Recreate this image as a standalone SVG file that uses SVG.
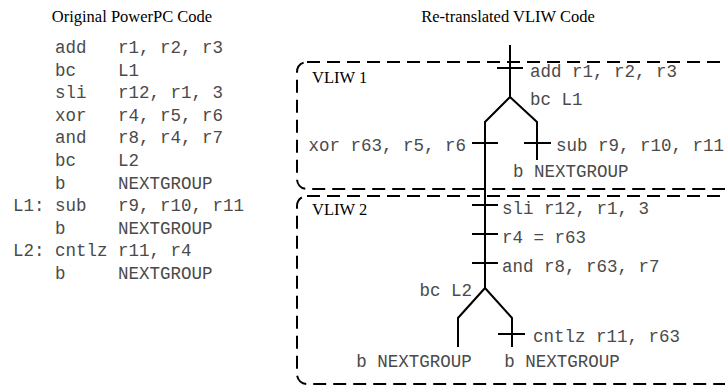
<svg xmlns="http://www.w3.org/2000/svg" width="725" height="387" viewBox="0 0 725 387">
  <style>
    .title { font-family: "Liberation Serif", "Times New Roman", serif; font-size: 16.5px; fill: #000; }
    .label { font-family: "Liberation Serif", "Times New Roman", serif; font-size: 16.5px; fill: #000; }
    .code { font-family: "Liberation Mono", "Courier New", monospace; font-size: 17.5px; fill: #4a4a4a; white-space: pre; }
    .wire { fill: none; stroke: #000; stroke-width: 2; stroke-linejoin: miter; }
    .group { fill: none; stroke: #000; stroke-width: 2; stroke-dasharray: 13 7; }
  </style>

  <!-- left: original source listing -->
  <g id="source">
    <text class="title" x="132" y="22" text-anchor="middle">Original PowerPC Code</text>
    <text class="code" xml:space="preserve" x="13" y="53">    add   r1, r2, r3</text>
    <text class="code" xml:space="preserve" x="13" y="75.6">    bc    L1</text>
    <text class="code" xml:space="preserve" x="13" y="98.2">    sli   r12, r1, 3</text>
    <text class="code" xml:space="preserve" x="13" y="120.8">    xor   r4, r5, r6</text>
    <text class="code" xml:space="preserve" x="13" y="143.4">    and   r8, r4, r7</text>
    <text class="code" xml:space="preserve" x="13" y="166">    bc    L2</text>
    <text class="code" xml:space="preserve" x="13" y="188.6">    b     NEXTGROUP</text>
    <text class="code" xml:space="preserve" x="13" y="211.2">L1: sub   r9, r10, r11</text>
    <text class="code" xml:space="preserve" x="13" y="233.8">    b     NEXTGROUP</text>
    <text class="code" xml:space="preserve" x="13" y="256.4">L2: cntlz r11, r4</text>
    <text class="code" xml:space="preserve" x="13" y="279">    b     NEXTGROUP</text>
  </g>

  <text class="title" x="508" y="22" text-anchor="middle">Re-translated VLIW Code</text>

  <!-- instruction groups -->
  <g id="vliw1">
    <rect class="group" x="297" y="62" width="440" height="127" rx="10"/>
    <text class="label" x="312" y="83">VLIW 1</text>
  </g>
  <g id="vliw2">
    <rect class="group" x="297" y="196" width="440" height="188" rx="10"/>
    <text class="label" x="312" y="215">VLIW 2</text>
  </g>

  <!-- decision tree -->
  <g id="connectors">
    <path class="wire" d="M510 45 V97 L485 122 V288 L458 318 V347"/>
    <path class="wire" d="M510 97 L537 122 V160"/>
    <path class="wire" d="M485 288 L512 318 V347"/>
    <!-- operation ticks -->
    <path class="wire" d="M497 68 H523 M472 143 H498 M524 143 H551 M472 205 H498 M472 234 H498 M472 263 H498 M498 334 H525"/>
  </g>

  <g id="ops">
    <text class="code" x="530" y="77">add r1, r2, r3</text>
    <text class="code" x="530" y="105">bc L1</text>
    <text class="code" x="466" y="151" text-anchor="end">xor r63, r5, r6</text>
    <text class="code" x="556" y="151">sub r9, r10, r11</text>
    <text class="code" x="513" y="177">b NEXTGROUP</text>
    <text class="code" x="502" y="214">sli r12, r1, 3</text>
    <text class="code" x="502" y="243">r4 = r63</text>
    <text class="code" x="502" y="272">and r8, r63, r7</text>
    <text class="code" x="472" y="296" text-anchor="end">bc L2</text>
    <text class="code" x="533" y="342">cntlz r11, r63</text>
    <text class="code" x="414" y="367" text-anchor="middle">b NEXTGROUP</text>
    <text class="code" x="562" y="367" text-anchor="middle">b NEXTGROUP</text>
  </g>
</svg>
